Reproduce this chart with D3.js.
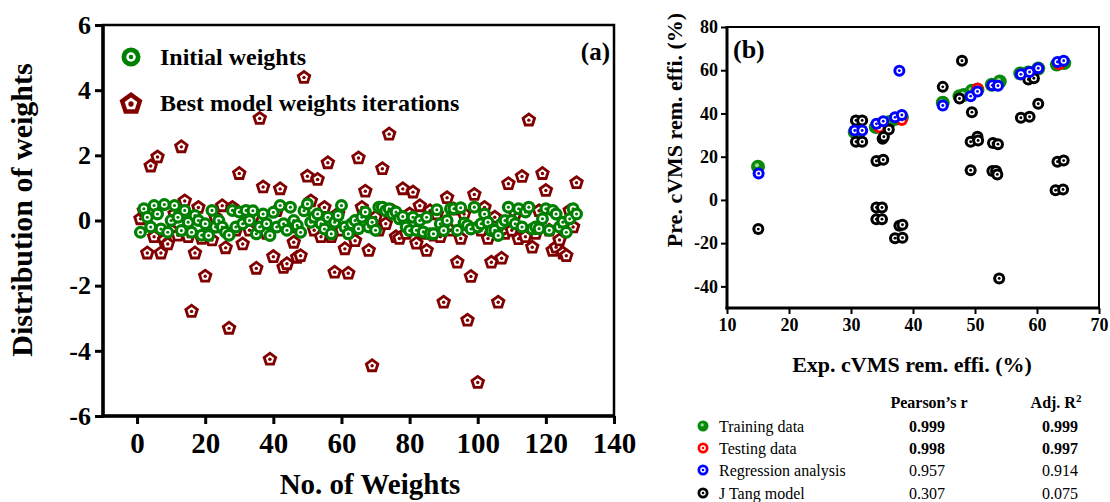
<!DOCTYPE html>
<html>
<head>
<meta charset="utf-8">
<script src="https://cdn.jsdelivr.net/npm/d3@7/dist/d3.min.js"></script>
<style>
  html, body { margin: 0; padding: 0; background: #fff; }
  svg { display: block; }
  text { font-family: "Liberation Serif", "Times New Roman", serif; }
</style>
</head>
<body>
<script>
// ---------- Panel (a): weight distributions ----------
const weightIndex = d3.range(1, 130);
const initialWeights = [
  -0.36, 0.36, 0.10, -0.20, 0.46, 0.20, -0.26, 0.49, -0.36, 0.00,
  0.46, 0.10, -0.31, 0.31, -0.05, -0.36, 0.15, 0.00, -0.45, -0.10,
  -0.46, 0.31, -0.20, 0.00, -0.20, -0.36, -0.45, 0.31, -0.20, 0.26,
  -0.10, 0.31, 0.00, 0.30, -0.41, -0.20, 0.20, -0.10, -0.46, 0.25,
  -0.20, 0.46, -0.10, -0.30, 0.41, 0.00, -0.15, -0.36, 0.30, 0.51,
  -0.05, 0.10, 0.20, -0.10, -0.26, 0.10, -0.41, -0.05, 0.15, 0.46,
  -0.20, -0.41, -0.10, 0.00, -0.25, 0.10, 0.26, -0.20, -0.05, -0.30,
  0.41, 0.41, 0.30, 0.36, 0.20, 0.26, 0.05, 0.12, -0.20, -0.31,
  0.10, -0.30, 0.00, -0.35, 0.10, -0.41, -0.41, 0.33, -0.10, -0.31,
  0.00, 0.36, 0.36, -0.30, 0.39, -0.08, -0.15, -0.26, 0.41, -0.20,
  -0.10, 0.20, -0.05, -0.31, -0.30, -0.46, -0.10, 0.00, 0.41, 0.00,
  -0.10, 0.36, -0.20, 0.26, 0.41, -0.26, -0.20, -0.25, 0.05, 0.36,
  -0.30, 0.31, 0.20, -0.20, -0.05, -0.36, 0.05, 0.36, 0.20
];
const bestWeights = [
  0.05, 0.30, -1.00, 1.67, -0.50, 1.95, -1.00, -0.60, -0.72, -0.30,
  0.20, -0.45, 2.26, 0.60, -0.50, -2.79, -1.00, 0.40, -0.55, -1.71,
  -0.30, -0.60, 0.10, -0.20, 0.45, -0.84, -3.31, 0.40, -0.30, 1.44,
  -0.72, 0.20, -0.30, 0.10, -1.47, 3.13, 1.03, -0.40, -4.26, -1.11,
  0.30, 0.97, -1.44, -1.33, -0.20, -0.67, -1.13, -1.08, 4.39, 1.36,
  0.60, -0.30, 1.26, -0.50, 0.40, 1.77, -0.50, -1.59, 0.20, -0.30,
  -0.87, -1.62, -0.20, -0.62, 1.92, 0.40, 0.90, -0.92, -4.46, 0.10,
  -0.30, 1.59, -0.10, 2.65, 0.30, -0.50, -0.55, 0.97, -0.40, 0.20,
  0.87, -0.70, 0.45, -0.40, -0.92, 0.30, -0.45, 0.20, -0.50, -2.51,
  0.70, -0.30, 0.35, -1.28, -0.55, 0.20, -3.06, -1.72, 0.80, -4.97,
  -0.30, 0.40, -0.55, -1.28, 0.10, -2.51, -1.16, -0.40, 1.13, -0.30,
  0.20, -0.56, 1.35, -0.50, 3.08, -0.82, -0.40, 0.30, 1.44, 0.92,
  -0.30, -0.92, -0.82, -0.60, -1.00, -1.08, 0.30, -0.20, 1.16
];
const xTicksA = [0, 20, 40, 60, 80, 100, 120, 140];
const yTicksA = [-6, -4, -2, 0, 2, 4, 6];
const legendA = ["Initial weights", "Best model weights iterations"];

// ---------- Panel (b): experimental vs predicted ----------
const trainingExp = [15.0, 30.6, 31.4, 34.0, 35.0, 36.2, 37.2, 38.2, 44.8, 47.5, 48.2, 49.5, 50.4, 52.7, 54.0, 57.3, 58.6, 60.2, 63.2, 64.4];
const trainingPre = [15.4, 31.4, 31.8, 33.7, 35.0, 36.0, 37.5, 38.2, 45.0, 48.0, 48.5, 50.5, 51.0, 53.3, 54.8, 58.5, 59.0, 60.8, 62.6, 63.3];
const testingExp = [34.6, 38.2, 50.4, 63.6];
const testingPre = [33.5, 37.0, 51.5, 62.8];
const regressionExp = [15.1, 37.8, 30.6, 31.8, 34.1, 35.2, 37.1, 38.2, 44.8, 49.3, 50.4, 52.8, 53.7, 57.4, 58.8, 60.2, 63.3, 64.3];
const regressionPre = [12.2, 59.8, 32.1, 32.1, 35.2, 36.4, 38.2, 39.3, 43.7, 48.0, 50.2, 53.0, 52.8, 58.1, 59.2, 60.9, 63.8, 64.4];
const tangExp = [15.05, 30.8, 31.8, 30.8, 31.8, 34.1, 35.2, 35.1, 35.3, 36.1, 34.1, 35.0, 34.1, 35.0, 37.8, 38.3, 37.1, 38.3,
  44.8, 47.9, 47.5, 49.5, 49.3, 50.4, 50.5, 49.3, 52.9, 53.7, 52.8, 53.4, 53.6, 53.9,
  57.4, 58.8, 58.6, 59.5, 60.2, 63.3, 64.3, 63.0, 64.2];
const tangPre = [-13.5, 36.8, 36.8, 26.9, 26.9, 18.0, 18.6, 28.3, 29.2, 32.6, -3.5, -3.5, -8.9, -8.9, -12.0, -11.5, -17.7, -17.5,
  52.3, 64.4, 46.9, 40.6, 26.9, 29.2, 27.5, 13.7, 26.3, 25.8, 13.4, 13.4, 11.8, -36.3,
  38.0, 38.5, 55.7, 56.3, 44.5, 17.7, 18.2, 4.5, 4.8];
const xTicksB = [10, 20, 30, 40, 50, 60, 70];
const yTicksB = [-40, -20, 0, 20, 40, 60, 80];

const tableSeries = ["Training data", "Testing data", "Regression analysis", "J Tang model"];
const tableColors = ["#0a8a0a", "#ff0000", "#0000ff", "#000000"];
const pearsonR = ["0.999", "0.998", "0.957", "0.307"];
const adjR2 = ["0.999", "0.997", "0.914", "0.075"];
const tableBold = [true, true, false, false];

const GREEN = "#008000";
const DARKRED = "#800000";

const svg = d3.select("body").append("svg")
  .attr("width", 1110).attr("height", 502);

// pentagon symbol for d3.symbol
const pentagon = {
  draw(ctx, size) {
    const r = Math.sqrt(size / 2.378);
    for (let k = 0; k < 5; k++) {
      const a = -Math.PI / 2 + k * 2 * Math.PI / 5;
      const px = r * Math.cos(a), py = r * Math.sin(a);
      if (k === 0) ctx.moveTo(px, py); else ctx.lineTo(px, py);
    }
    ctx.closePath();
  }
};
const pentArea = r => 2.378 * r * r;

function ringMarker(g, color, R) {
  g.append("circle").attr("r", R).attr("fill", color);
  g.append("circle").attr("r", R * 0.5).attr("fill", "#fff");
  g.append("circle").attr("r", R * 0.24).attr("fill", color);
}
function pentMarker(g, R) {
  g.append("path").attr("d", d3.symbol(pentagon, pentArea(R))()).attr("fill", DARKRED);
  g.append("path").attr("d", d3.symbol(pentagon, pentArea(R * 0.55))()).attr("fill", "#fff");
  g.append("circle").attr("r", R * 0.22).attr("fill", DARKRED);
}

// ===== Panel (a) =====
const xA = d3.scaleLinear().domain([-10, 140]).range([103, 614]);
const yA = d3.scaleLinear().domain([-6, 6]).range([416, 25]);
const gA = svg.append("g");

const yAxisA = gA.append("g").attr("transform", `translate(${xA.range()[0]},0)`)
  .call(d3.axisLeft(yA).tickValues(yTicksA).tickSize(8).tickPadding(4).tickFormat(d => String(d)));
const xAxisA = gA.append("g").attr("transform", `translate(0,${yA.range()[0]})`)
  .call(d3.axisBottom(xA).tickValues(xTicksA).tickSize(8).tickPadding(8).tickFormat(d => String(d)));
[yAxisA, xAxisA].forEach(ax => {
  ax.select(".domain").remove();
  ax.selectAll(".tick line").attr("stroke", "#000").attr("stroke-width", 3);
  ax.selectAll("text").attr("fill", "#000").attr("font-weight", "bold")
    .style("font-family", "'Liberation Serif', serif");
});
yAxisA.selectAll("text").attr("font-size", 26);
xAxisA.selectAll("text").attr("font-size", 29);

gA.append("rect")
  .attr("x", xA.range()[0]).attr("y", yA.range()[1])
  .attr("width", xA.range()[1] - xA.range()[0]).attr("height", yA.range()[0] - yA.range()[1])
  .attr("fill", "none").attr("stroke", "#000").attr("stroke-width", 2.5);
gA.append("line").attr("x1", xA.range()[0]).attr("x2", xA.range()[0])
  .attr("y1", yA.range()[1] - 1).attr("y2", yA.range()[0] + 1.5).attr("stroke", "#000").attr("stroke-width", 3.5);
gA.append("line").attr("x1", xA.range()[0] - 1.5).attr("x2", xA.range()[1] + 1)
  .attr("y1", yA.range()[0]).attr("y2", yA.range()[0]).attr("stroke", "#000").attr("stroke-width", 3.5);

// best model weights (pentagons) drawn first, initial weights on top
gA.append("g").selectAll("g").data(weightIndex).join("g")
  .attr("transform", (d, i) => `translate(${xA(d)},${yA(bestWeights[i])})`)
  .each(function () { pentMarker(d3.select(this), 7.8); });
gA.append("g").selectAll("g").data(weightIndex).join("g")
  .attr("transform", (d, i) => `translate(${xA(d)},${yA(initialWeights[i])})`)
  .each(function () { ringMarker(d3.select(this), GREEN, 6.5); });

// legend
const legA = gA.append("g");
ringMarker(legA.append("g").attr("transform", "translate(131,57)"), GREEN, 9.5);
pentMarker(legA.append("g").attr("transform", "translate(131,104)"), 12);
legA.selectAll("text.leg").data(legendA).join("text")
  .attr("x", 160).attr("y", (d, i) => 65 + i * 46)
  .attr("font-size", 24).attr("font-weight", "bold").text(d => d);

gA.append("text").attr("x", 610).attr("y", 60).attr("text-anchor", "end")
  .attr("font-size", 25).attr("font-weight", "bold").text("(a)");

gA.append("text").attr("x", 370).attr("y", 494).attr("text-anchor", "middle")
  .attr("font-size", 29).attr("font-weight", "bold").text("No. of Weights");
gA.append("text").attr("transform", "translate(32,210) rotate(-90)").attr("text-anchor", "middle")
  .attr("font-size", 30).attr("font-weight", "bold").text("Distribution of weights");

// ===== Panel (b) =====
const xB = d3.scaleLinear().domain([10, 70]).range([727, 1099]);
const yB = d3.scaleLinear().domain([-50, 80]).range([308, 27]);
const gB = svg.append("g");

const yAxisB = gB.append("g").attr("transform", `translate(${xB.range()[0]},0)`)
  .call(d3.axisLeft(yB).tickValues(yTicksB).tickSize(6).tickPadding(3).tickFormat(d => String(d)));
const xAxisB = gB.append("g").attr("transform", `translate(0,${yB.range()[0]})`)
  .call(d3.axisBottom(xB).tickValues(xTicksB).tickSize(6).tickPadding(4).tickFormat(d => String(d)));
[yAxisB, xAxisB].forEach(ax => {
  ax.select(".domain").remove();
  ax.selectAll(".tick line").attr("stroke", "#000").attr("stroke-width", 2);
  ax.selectAll("text").attr("fill", "#000").attr("font-weight", "bold").attr("font-size", 18)
    .style("font-family", "'Liberation Serif', serif");
});

gB.append("rect")
  .attr("x", xB.range()[0]).attr("y", yB.range()[1])
  .attr("width", xB.range()[1] - xB.range()[0]).attr("height", yB.range()[0] - yB.range()[1])
  .attr("fill", "none").attr("stroke", "#000").attr("stroke-width", 2);
gB.append("line").attr("x1", xB.range()[0]).attr("x2", xB.range()[0])
  .attr("y1", yB.range()[1] - 1).attr("y2", yB.range()[0] + 1.5).attr("stroke", "#000").attr("stroke-width", 3);
gB.append("line").attr("x1", xB.range()[0] - 1.5).attr("x2", xB.range()[1] + 1)
  .attr("y1", yB.range()[0]).attr("y2", yB.range()[0]).attr("stroke", "#000").attr("stroke-width", 3);

function trainingMarker(g, R) {
  g.append("circle").attr("r", R).attr("fill", "#0a8a0a");
  g.append("circle").attr("r", R * 0.3).attr("cx", -R * 0.15).attr("cy", -R * 0.2).attr("fill", "#9fd89f");
}
gB.append("g").selectAll("g").data(trainingExp).join("g")
  .attr("transform", (d, i) => `translate(${xB(d)},${yB(trainingPre[i])})`)
  .each(function () { trainingMarker(d3.select(this), 7); });
gB.append("g").selectAll("g").data(testingExp).join("g")
  .attr("transform", (d, i) => `translate(${xB(d)},${yB(testingPre[i])})`)
  .each(function () { ringMarker(d3.select(this), "#ff0000", 6); });
gB.append("g").selectAll("g").data(tangExp).join("g")
  .attr("transform", (d, i) => `translate(${xB(d)},${yB(tangPre[i])})`)
  .each(function () { ringMarker(d3.select(this), "#000", 6); });
gB.append("g").selectAll("g").data(regressionExp).join("g")
  .attr("transform", (d, i) => `translate(${xB(d)},${yB(regressionPre[i])})`)
  .each(function () { ringMarker(d3.select(this), "#0000ff", 6); });

gB.append("text").attr("x", 733).attr("y", 58)
  .attr("font-size", 26).attr("font-weight", "bold").text("(b)");

gB.append("text").attr("x", 912).attr("y", 372).attr("text-anchor", "middle")
  .attr("font-size", 22).attr("font-weight", "bold").text("Exp. cVMS rem. effi. (%)");
gB.append("text").attr("transform", "translate(682,130) rotate(-90)").attr("text-anchor", "middle")
  .attr("font-size", 22).attr("font-weight", "bold").text("Pre. cVMS rem. effi. (%)");

// statistics table
const tbl = gB.append("g");
tbl.append("text").attr("x", 929).attr("y", 408).attr("text-anchor", "middle")
  .attr("font-size", 16).attr("font-weight", "bold").text("Pearson\u2019s r");
const adjHead = tbl.append("text").attr("x", 1056).attr("y", 408).attr("text-anchor", "middle")
  .attr("font-size", 16).attr("font-weight", "bold");
adjHead.append("tspan").text("Adj. R");
adjHead.append("tspan").attr("dy", -6).attr("font-size", 11).text("2");

const rowY = [426, 448, 470, 493];
tableSeries.forEach((name, i) => {
  const m = tbl.append("g").attr("transform", `translate(703,${rowY[i]})`);
  if (i === 0) trainingMarker(m, 5.5); else ringMarker(m, tableColors[i], 5.5);
  tbl.append("text").attr("x", 719).attr("y", rowY[i] + 5.5)
    .attr("font-size", 16).text(name);
  tbl.append("text").attr("x", 927).attr("y", rowY[i] + 5.5).attr("text-anchor", "middle")
    .attr("font-size", 16).attr("font-weight", tableBold[i] ? "bold" : "normal").text(pearsonR[i]);
  tbl.append("text").attr("x", 1060).attr("y", rowY[i] + 5.5).attr("text-anchor", "middle")
    .attr("font-size", 16).attr("font-weight", tableBold[i] ? "bold" : "normal").text(adjR2[i]);
});
</script>
</body>
</html>
